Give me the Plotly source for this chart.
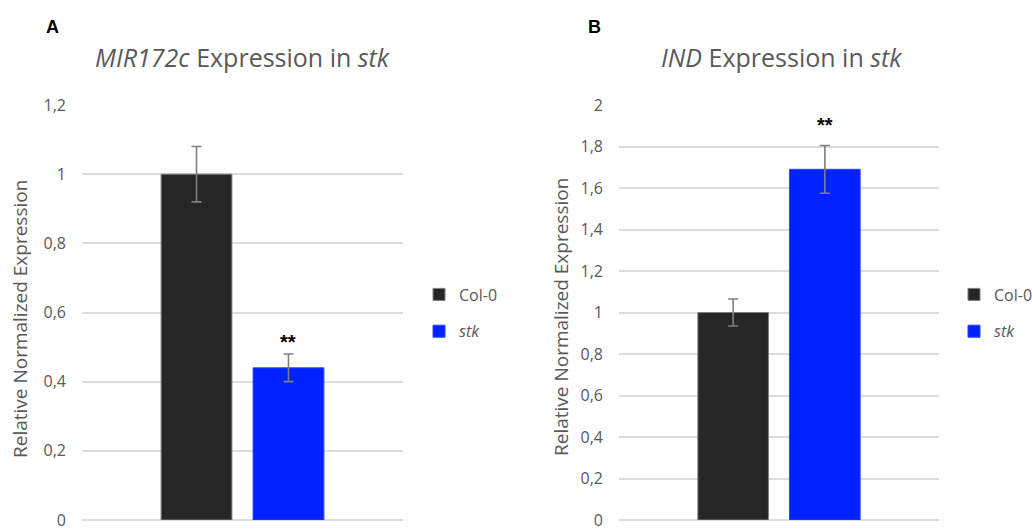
import plotly.graph_objects as go

# ---------------- data ----------------
genotypes = ["Col-0", "stk"]
legend_names = ["Col-0", "<i>stk</i>"]
bar_colors = ["#262626", "#0022FF"]
bar_lines = ["#7f7f7f", "#2a45ff"]

mir_mean = [1.0, 0.44]
mir_err = [0.08, 0.04]

ind_mean = [1.0, 1.69]
ind_err = [0.065, 0.115]

significance = ["", "**"]

panel_letters = ["A", "B"]
panel_titles = ["<i>MIR172c</i> Expression in <i>stk</i>", "<i>IND</i> Expression in <i>stk</i>"]
y_title = "Relative Normalized Expression"

# ---------------- layout helpers ----------------
W, H = 1032, 532
FONT = "Open Sans"
GRAY = "#595959"
GRID = "#dcdcdc"

def px(x):
    return x / W

def py(y):
    return 1 - y / H

fig = go.Figure()

panels = [
    dict(mean=mir_mean, err=mir_err, xa="x", ya="y", legend="legend",
         xdom=[px(82), px(403)], sig_shift=12),
    dict(mean=ind_mean, err=ind_err, xa="x2", ya="y2", legend="legend2",
         xdom=[px(619), px(939)], sig_shift=20),
]

for p in panels:
    for i, g in enumerate(genotypes):
        fig.add_trace(go.Bar(
            x=[g], y=[p["mean"][i]],
            name=legend_names[i],
            marker=dict(color=bar_colors[i], line=dict(color=bar_lines[i], width=1)),
            error_y=dict(type="data", array=[p["err"][i]], visible=True,
                         color="#7f7f7f", thickness=1.6, width=5),
            xaxis=p["xa"], yaxis=p["ya"],
            legend=p["legend"], legendgroup=p["legend"] + g,
            showlegend=True,
            hoverinfo="skip",
        ))

ydom = [py(520), py(105)]

axis_common_x = dict(showticklabels=False, showgrid=False, zeroline=False,
                     showline=False, ticks="", range=[-1.245, 2.245],
                     categoryorder="array", categoryarray=genotypes)
axis_common_y = dict(showgrid=True, gridcolor=GRID, gridwidth=2,
                     zeroline=True, zerolinecolor=GRID, zerolinewidth=2,
                     showline=False, ticks="", dtick=0.2,
                     tickfont=dict(family=FONT, size=16, color=GRAY),
                     ticklabelstandoff=15, ticklabeloverflow="allow",
                     domain=ydom, automargin=False)

legend_common = dict(xanchor="left", yanchor="middle",
                     font=dict(family=FONT, size=16, color=GRAY),
                     traceorder="grouped", tracegroupgap=13, bgcolor="rgba(0,0,0,0)")

fig.update_layout(
    width=W, height=H, autosize=False,
    margin=dict(l=0, r=0, t=0, b=0, pad=0, autoexpand=False),
    paper_bgcolor="white", plot_bgcolor="white",
    separators=", ",
    barmode="overlay",
    bargap=0.23,
    xaxis=dict(domain=panels[0]["xdom"], anchor="y", automargin=False, **axis_common_x),
    xaxis2=dict(domain=panels[1]["xdom"], anchor="y2", automargin=False, **axis_common_x),
    yaxis=dict(range=[0, 1.2], anchor="x", **axis_common_y),
    yaxis2=dict(range=[0, 2.0], anchor="x2", **axis_common_y),
    legend=dict(x=px(419), y=py(313), **legend_common),
    legend2=dict(x=px(954), y=py(313), **legend_common),
    showlegend=True,
)

annotations = []
letter_pos = [(52, 27), (594, 27)]
title_pos = [(242.5, 57), (781, 57)]
ytitle_pos = [(20, 319), (561, 317)]
for k, p in enumerate(panels):
    lx, ly = letter_pos[k]
    annotations.append(dict(text="<b>" + panel_letters[k] + "</b>", x=px(lx), y=py(ly),
                            xref="paper", yref="paper",
                            xanchor="center", yanchor="middle", showarrow=False,
                            font=dict(family="Liberation Sans", size=18, color="black")))
    tx, ty = title_pos[k]
    annotations.append(dict(text=panel_titles[k], x=px(tx), y=py(ty), xref="paper", yref="paper",
                            xanchor="center", yanchor="middle", showarrow=False,
                            font=dict(family=FONT, size=25, color=GRAY)))
    ax, ay = ytitle_pos[k]
    annotations.append(dict(text=y_title, x=px(ax), y=py(ay), xref="paper", yref="paper",
                            xanchor="center", yanchor="middle", showarrow=False, textangle=-90,
                            font=dict(family=FONT, size=19, color=GRAY)))
    for i, g in enumerate(genotypes):
        if significance[i]:
            annotations.append(dict(text="<b>" + significance[i] + "</b>", x=g,
                                    y=p["mean"][i] + p["err"][i],
                                    xref=p["xa"], yref=p["ya"], xanchor="center", yanchor="middle",
                                    yshift=p["sig_shift"], showarrow=False,
                                    font=dict(family="Liberation Sans", size=20, color="black")))

fig.update_layout(annotations=annotations)

fig.write_html("out.html",
               config={"displayModeBar": False},
               post_script="document.body.style.margin='0';document.body.style.overflow='hidden';")
